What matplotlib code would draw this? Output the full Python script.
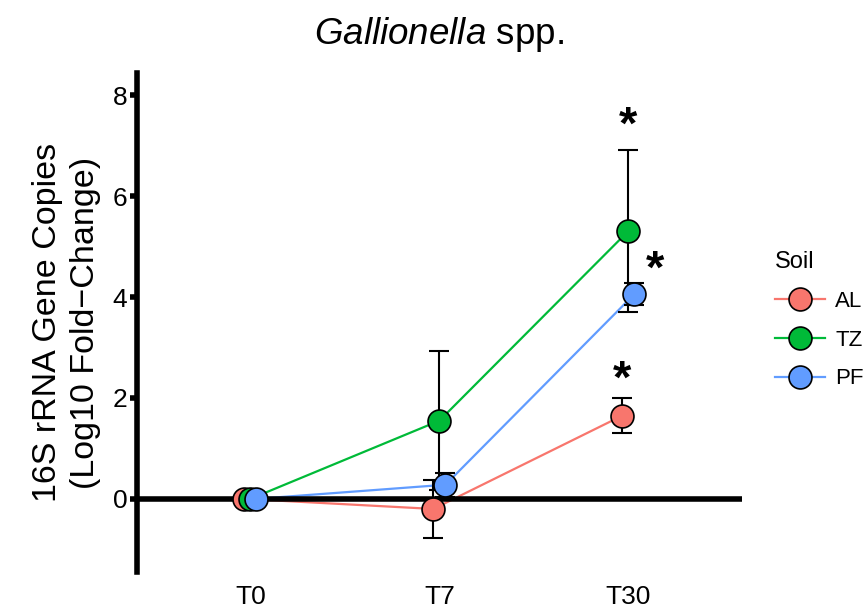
import matplotlib
matplotlib.use("Agg")
import matplotlib.pyplot as plt
import numpy as np

plt.rcParams['font.family'] = ['Liberation Sans', 'DejaVu Sans']
plt.rcParams['mathtext.fontset'] = 'custom'
plt.rcParams['mathtext.rm'] = 'Liberation Sans'
plt.rcParams['mathtext.it'] = 'Liberation Sans:italic'

# data
timepoints = ["T0", "T7", "T30"]
soils = ["AL", "TZ", "PF"]
colors = ["#F8766D", "#00BA38", "#619CFF"]
al_mean = [0.0, -0.20, 1.65]
al_err = [0.0, 0.58, 0.34]
tz_mean = [0.0, 1.55, 5.31]
tz_err = [0.0, 1.38, 1.60]
pf_mean = [0.0, 0.28, 4.06]
pf_err = [0.0, 0.24, 0.22]

# significance marks at T30 (soil, x shift, y)
star_soil = ["TZ", "PF", "AL"]
star_shift = [0.0, 0.11, 0.0]
star_y = [7.38, 4.53, 2.35]

means = [al_mean, tz_mean, pf_mean]
errs = [al_err, tz_err, pf_err]
dodge = [-0.032, 0.0, 0.032]


def main():
    fig = plt.figure(figsize=(8.64, 6.11), dpi=100)
    ax = fig.add_axes([0.1586, 0.0638, 0.70, 0.8167])
    x = np.arange(1, len(timepoints) + 1)

    for i, soil in enumerate(soils):
        xs = x + dodge[i]
        ax.plot(xs, means[i], color=colors[i], lw=1.6, zorder=2)
        ax.errorbar(xs, means[i], yerr=errs[i], fmt='none', ecolor='black',
                    elinewidth=1.5, capsize=7, capthick=1.5, zorder=4)
    ax.axhline(0, color='black', lw=4, zorder=3)
    for i, soil in enumerate(soils):
        xs = x + dodge[i]
        ax.plot(xs, means[i], ls='none', marker='o', ms=16.5,
                mfc=colors[i], mec='black', mew=1.2, zorder=5 + i)
        # legend handle
        ax.plot([], [], color=colors[i], lw=1.6, marker='o', ms=16.5,
                mfc=colors[i], mec='black', mew=1.2, label=soil)

    for s, dx, y in zip(star_soil, star_shift, star_y):
        k = soils.index(s)
        ax.text(x[-1] + dodge[k] + dx, y, "*", fontsize=34, fontweight='bold',
                ha='center', va='center')

    ax.set_xlim(0.4, 3.6)
    ax.set_ylim(-1.45, 8.44)
    ax.set_xticks(x)
    ax.set_xticklabels(timepoints)
    ax.set_yticks([0, 2, 4, 6, 8])
    ax.tick_params(axis='x', length=0, labelsize=19, pad=9)
    ax.tick_params(axis='y', length=5, width=4, labelsize=19, pad=2)
    for sp in ['top', 'right', 'bottom']:
        ax.spines[sp].set_visible(False)
    ax.spines['left'].set_linewidth(4)

    ax.set_ylabel("16S rRNA Gene Copies\n(Log10 Fold\u2212Change)", fontsize=24.5,
                  linespacing=1.3, labelpad=8)
    ax.set_title(r"$\it{Gallionella}$ spp.", fontsize=26.5, pad=21)

    ax.legend(title="Soil", loc='center left', frameon=False,
              bbox_to_anchor=(0.897, 0.476), bbox_transform=fig.transFigure,
              fontsize=16, title_fontsize=17, handlelength=2.25,
              handletextpad=0.45, labelspacing=0.8, borderpad=0,
              borderaxespad=0, alignment='left')

    fig.savefig("out.png", dpi=100)


if __name__ == "__main__":
    main()
